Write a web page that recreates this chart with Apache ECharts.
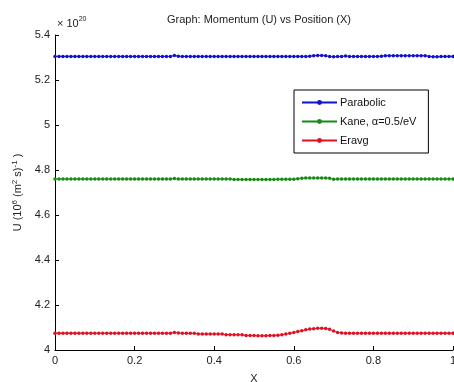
<!DOCTYPE html>
<html>
<head>
<meta charset="utf-8">
<script src="https://cdn.jsdelivr.net/npm/echarts@6/dist/echarts.min.js"></script>
<style>html,body{margin:0;padding:0;background:#fff;}#c{width:454px;height:382px;}</style>
</head>
<body>
<div id="c"></div>
<script>
var xValues = [0,0.01,0.02,0.03,0.04,0.05,0.06,0.07,0.08,0.09,
0.1,0.11,0.12,0.13,0.14,0.15,0.16,0.17,0.18,0.19,
0.2,0.21,0.22,0.23,0.24,0.25,0.26,0.27,0.28,0.29,
0.3,0.31,0.32,0.33,0.34,0.35,0.36,0.37,0.38,0.39,
0.4,0.41,0.42,0.43,0.44,0.45,0.46,0.47,0.48,0.49,
0.5,0.51,0.52,0.53,0.54,0.55,0.56,0.57,0.58,0.59,
0.6,0.61,0.62,0.63,0.64,0.65,0.66,0.67,0.68,0.69,
0.7,0.71,0.72,0.73,0.74,0.75,0.76,0.77,0.78,0.79,
0.8,0.81,0.82,0.83,0.84,0.85,0.86,0.87,0.88,0.89,
0.9,0.91,0.92,0.93,0.94,0.95,0.96,0.97,0.98,0.99,
1];
var parabolic = [5.305,5.305,5.305,5.305,5.305,5.305,5.305,5.305,5.305,5.305,
5.305,5.305,5.305,5.305,5.305,5.305,5.305,5.305,5.305,5.305,
5.305,5.305,5.305,5.305,5.305,5.305,5.305,5.305,5.305,5.305,
5.309,5.306,5.305,5.305,5.305,5.305,5.305,5.305,5.305,5.305,
5.305,5.305,5.305,5.305,5.305,5.305,5.305,5.305,5.305,5.305,
5.305,5.305,5.305,5.305,5.305,5.305,5.305,5.305,5.305,5.305,
5.305,5.305,5.305,5.305,5.306,5.308,5.309,5.309,5.308,5.304,
5.303,5.304,5.305,5.307,5.305,5.305,5.305,5.305,5.305,5.305,
5.305,5.305,5.306,5.308,5.308,5.308,5.308,5.308,5.308,5.308,
5.308,5.308,5.308,5.308,5.305,5.303,5.303,5.304,5.305,5.305,
5.305];
var kane = [4.760,4.760,4.760,4.760,4.760,4.760,4.760,4.760,4.760,4.760,
4.760,4.760,4.760,4.760,4.760,4.760,4.760,4.760,4.760,4.760,
4.760,4.760,4.760,4.760,4.760,4.760,4.760,4.760,4.760,4.760,
4.762,4.760,4.760,4.760,4.760,4.760,4.760,4.760,4.760,4.760,
4.760,4.760,4.760,4.760,4.760,4.758,4.758,4.758,4.758,4.758,
4.758,4.758,4.758,4.758,4.758,4.758,4.759,4.759,4.759,4.759,
4.759,4.761,4.763,4.765,4.765,4.765,4.765,4.765,4.765,4.763,
4.759,4.760,4.760,4.760,4.760,4.760,4.760,4.760,4.760,4.760,
4.760,4.760,4.760,4.760,4.760,4.760,4.760,4.760,4.760,4.760,
4.760,4.760,4.760,4.760,4.760,4.760,4.760,4.760,4.760,4.760,
4.760];
var eravg = [4.075,4.075,4.075,4.075,4.075,4.075,4.075,4.075,4.075,4.075,
4.075,4.075,4.075,4.075,4.075,4.075,4.075,4.075,4.075,4.075,
4.075,4.075,4.075,4.075,4.075,4.075,4.075,4.075,4.075,4.075,
4.078,4.076,4.074,4.074,4.074,4.074,4.071,4.071,4.071,4.071,
4.071,4.071,4.071,4.068,4.068,4.068,4.068,4.068,4.064,4.064,
4.064,4.063,4.063,4.063,4.064,4.064,4.066,4.068,4.071,4.074,
4.078,4.082,4.086,4.090,4.093,4.095,4.097,4.097,4.096,4.092,
4.084,4.078,4.076,4.075,4.075,4.075,4.075,4.075,4.075,4.075,
4.075,4.075,4.075,4.075,4.075,4.075,4.075,4.075,4.075,4.075,
4.075,4.075,4.075,4.075,4.075,4.075,4.075,4.075,4.075,4.075,
4.075];
var seriesNames = ['Parabolic', 'Kane, \u03b1=0.5/eV', 'Eravg'];
var seriesColors = ['#1010d0', '#158a15', '#dd1122'];
var seriesData = [parabolic, kane, eravg];
var xTicks = [0, 0.2, 0.4, 0.6, 0.8, 1];
var yTicks = [4, 4.2, 4.4, 4.6, 4.8, 5, 5.2, 5.4];

var chart = echarts.init(document.getElementById('c'), null, {renderer: 'canvas'});
var font = 'Liberation Sans, Arial, sans-serif';
var series = seriesData.map(function (vals, i) {
  return {
    name: seriesNames[i],
    type: 'line',
    data: xValues.map(function (x, j) { return [x, vals[j]]; }),
    symbol: 'circle',
    symbolSize: 3.5,
    showSymbol: true,
    animation: false,
    lineStyle: {color: seriesColors[i], width: 1},
    itemStyle: {color: seriesColors[i]}
  };
});
chart.setOption({
  backgroundColor: '#fff',
  animation: false,
  textStyle: {fontFamily: font},
  title: [{
    text: 'Graph: Momentum (U) vs Position (X)',
    left: 254, top: 9, textAlign: 'center',
    textStyle: {fontSize: 11, fontWeight: 'normal', color: '#222', fontFamily: font}
  }, {
    text: '\u00d7 10{sup|20}',
    left: 52, top: 11,
    textStyle: {fontSize: 11, fontWeight: 'normal', color: '#222', fontFamily: font,
      rich: {sup: {fontSize: 7, verticalAlign: 'top', padding: [0,0,9,0], color: '#222', fontFamily: font}}}
  }],
  legend: {
    orient: 'vertical',
    left: 294, top: 90,
    width: 120,
    padding: [7, 12, 7, 7],
    itemGap: 8,
    itemWidth: 35,
    itemHeight: 6,
    borderColor: '#000',
    borderWidth: 1,
    backgroundColor: '#fff',
    selectedMode: false,
    textStyle: {fontSize: 11, color: '#111', fontFamily: font, padding: [0,0,0,-2]},
    data: seriesNames
  },
  grid: {left: 55, right: 1, top: 35, bottom: 32, containLabel: false, outerBoundsMode: 'none'},
  xAxis: {
    type: 'value', min: 0, max: 1, interval: 0.2,
    name: 'X', nameLocation: 'middle', nameGap: 23,
    nameTextStyle: {fontSize: 11, color: '#222'},
    axisLine: {lineStyle: {color: '#000', width: 1}},
    axisTick: {inside: true, length: 4, lineStyle: {color: '#000'}},
    axisLabel: {fontSize: 11, color: '#222', margin: 5, hideOverlap: false,
      formatter: function (v) { var r = Math.round(v*10)/10; return xTicks.indexOf(r) >= 0 ? String(r) : ''; }},
    splitLine: {show: false}
  },
  yAxis: {
    type: 'value', min: 4, max: 5.4, interval: 0.2,
    name: 'U (10{sup|6} (m{sup|2} s){sup|-1} )', nameLocation: 'middle', nameGap: 27,
    nameTextStyle: {fontSize: 11, color: '#222',
      rich: {sup: {fontSize: 8, verticalAlign: 'top', padding: [0,0,7,0], color: '#222'}}},
    axisLine: {show: true, lineStyle: {color: '#000', width: 1}},
    axisTick: {show: true, inside: true, length: 4, lineStyle: {color: '#000'}},
    axisLabel: {fontSize: 11, color: '#222', margin: 5,
      formatter: function (v) { var r = Math.round(v*10)/10; return yTicks.indexOf(r) >= 0 ? String(r) : ''; }},
    splitLine: {show: false}
  },
  series: series
});
</script>
</body>
</html>
